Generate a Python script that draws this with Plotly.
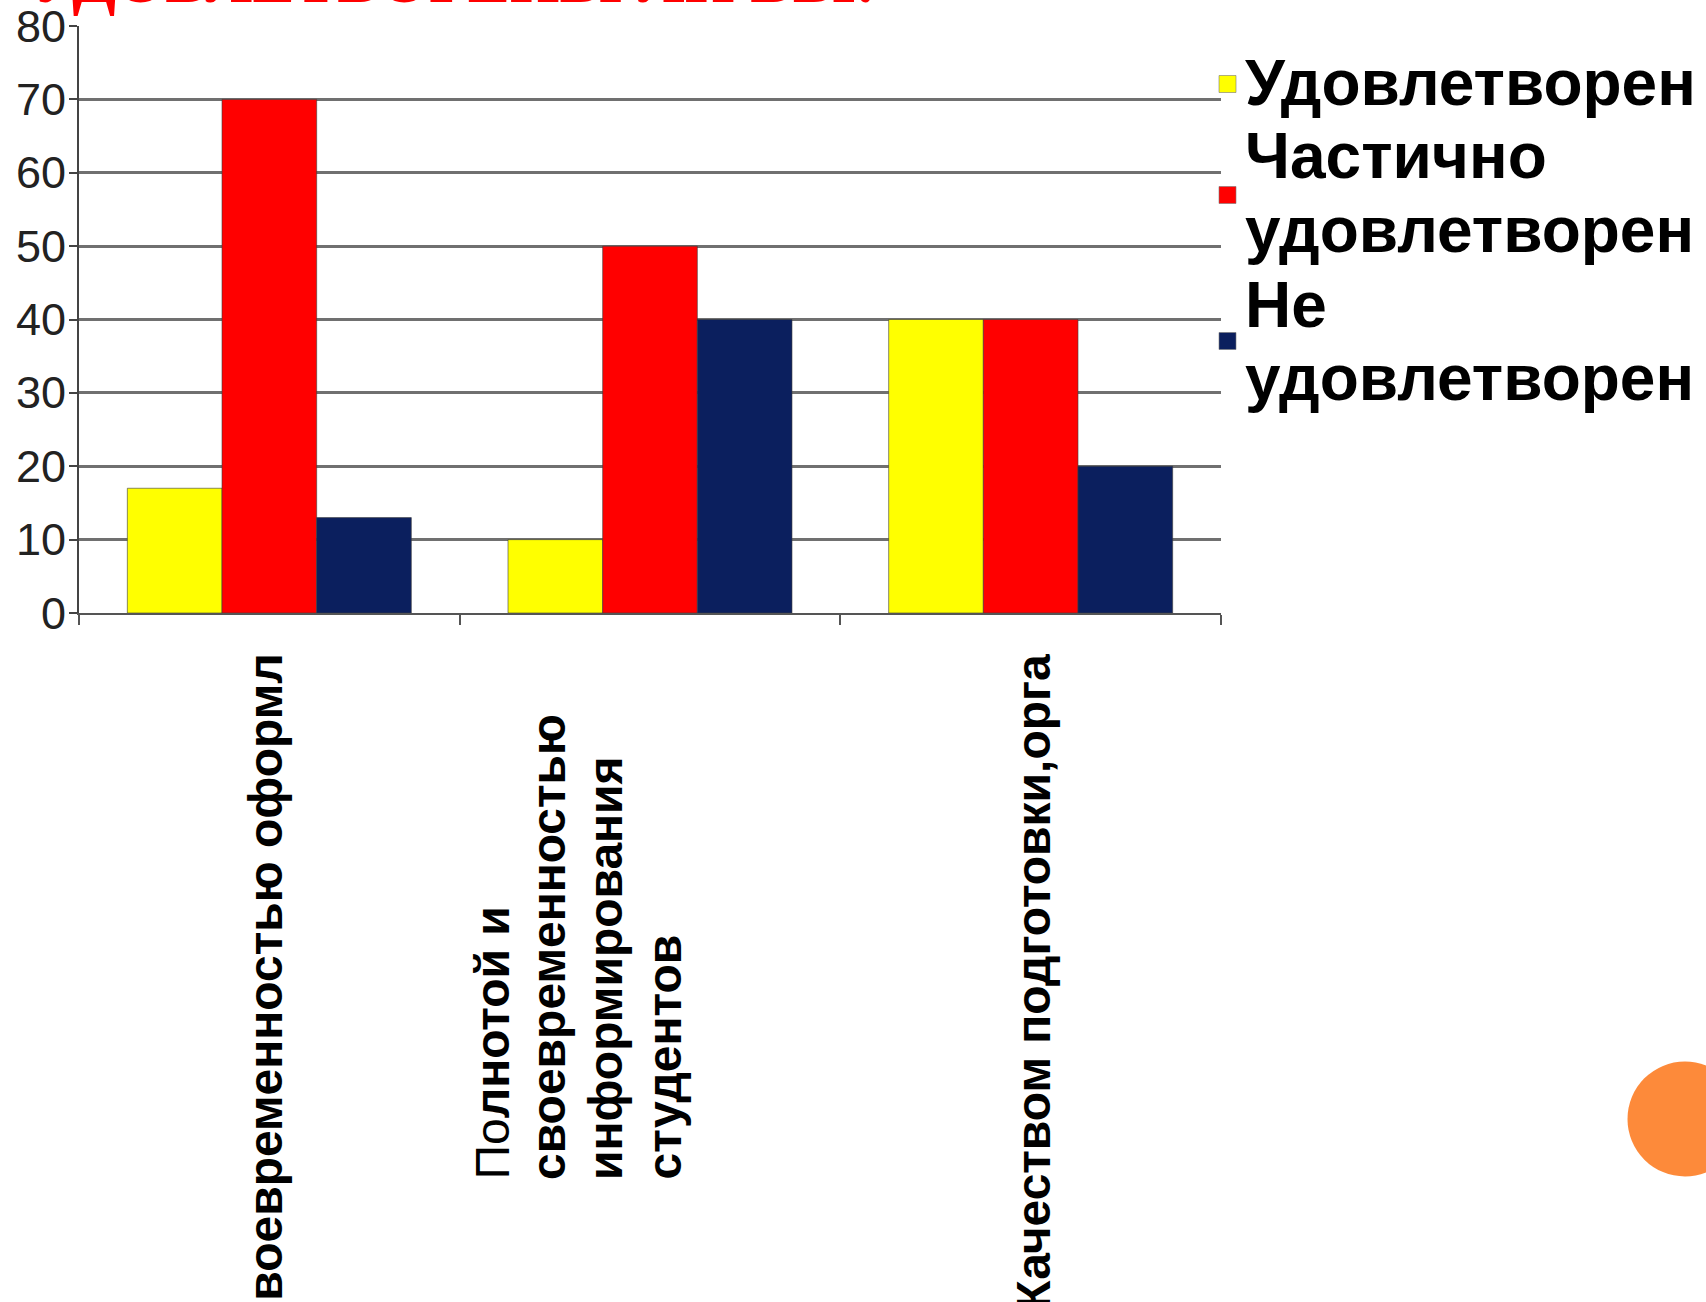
import plotly.graph_objects as go

# ---- data ----
categories = ["Своевременностью оформления", "Полнотой и своевременностью информирования студентов", "Качеством подготовки,организации"]
label_1 = "Своевременностью оформл"
label_2_lines = ["<span style='font-weight:normal'>По</span>лнотой и", "своевременностью", "информирования", "студентов"]
label_3 = "Качеством подготовки,орга"
series_names = ["Удовлетворен", "Частично удовлетворен", "Не удовлетворен"]
legend_lines = [["Удовлетворен"], ["Частично", "удовлетворен"], ["Не", "удовлетворен"]]
satisfied = [17, 10, 40]
partly = [70, 50, 40]
not_satisfied = [13, 40, 20]
y_ticks = [0, 10, 20, 30, 40, 50, 60, 70, 80]
title_text = "УДОВЛЕТВОРЕНЫ ЛИ ВЫ:"

colors = ["#FFFF00", "#FF0000", "#0B1F5E"]
values = [satisfied, partly, not_satisfied]

W, H = 1706, 1302
L, R, T, B = 79, 485, 26, 689
PW = W - L - R
PH = H - T - B


def px_x(px):
    return (px - L) / PW


def px_y(py):
    return (H - B - py) / PH


fig = go.Figure()
for name, vals, col in zip(series_names, values, colors):
    fig.add_trace(go.Bar(
        x=categories, y=vals, name=name,
        marker=dict(color=col, line=dict(color="rgba(60,60,60,0.6)", width=1)),
        showlegend=False,
    ))

fig.update_layout(
    width=W, height=H, autosize=False,
    margin=dict(l=L, r=R, t=T, b=B, pad=0, autoexpand=False),
    paper_bgcolor="white", plot_bgcolor="white",
    barmode="group", bargap=0.254, bargroupgap=0,
    font=dict(family="Liberation Sans, Arial, sans-serif", color="#000"),
    xaxis=dict(
        type="category", categoryorder="array", categoryarray=categories,
        range=[-0.5, 2.5], showticklabels=False, automargin=False,
        ticks="outside", tickson="boundaries", ticklen=10, tickwidth=2, tickcolor="#555",
        showline=True, linecolor="#555", linewidth=2, showgrid=False,
    ),
    yaxis=dict(
        range=[0, 80], tickvals=y_ticks, showticklabels=False, automargin=False,
        showgrid=True, gridcolor="#707070", gridwidth=2.5,
        showline=True, linecolor="#444", linewidth=2,
        ticks="outside", ticklen=8, tickwidth=2, tickcolor="#444",
        zeroline=False,
    ),
)

# y tick labels
for v in y_ticks:
    fig.add_annotation(x=px_x(68), xref="paper", y=v, yref="y", text=str(v),
                       showarrow=False, xanchor="right", yanchor="middle",
                       font=dict(size=45, color="#222"))

# category labels (rotated)
fig.add_annotation(x=categories[0], xref="x", y=px_y(651), yref="paper",
                   text=label_1, textangle=-90, showarrow=False,
                   xanchor="center", yanchor="top", xshift=-4,
                   font=dict(size=48, weight="bold", color="#000"))
for j, (ln, dx) in enumerate(zip(label_2_lines, [-158, -102, -45, 14])):
    fig.add_annotation(x=categories[1], xref="x", y=px_y(1182), yref="paper",
                       text=ln, textangle=-90, showarrow=False,
                       xanchor="center", yanchor="bottom", xshift=dx,
                       font=dict(size=48, weight="bold", color="#000"))
fig.add_annotation(x=categories[2], xref="x", y=px_y(652), yref="paper",
                   text=label_3, textangle=-90, showarrow=False,
                   xanchor="center", yanchor="top", xshift=2,
                   font=dict(size=48, weight="bold", color="#000"))

# custom legend
line_mid_y = [83, 156, 230, 305, 378]
marker_y = [84, 195, 341]
k = 0
for i, lines in enumerate(legend_lines):
    for ln in lines:
        fig.add_annotation(x=px_x(1243), xref="paper", y=px_y(line_mid_y[k]), yref="paper",
                           text=ln, showarrow=False, xanchor="left", yanchor="middle",
                           font=dict(size=64, weight="bold", color="#000"))
        k += 1
    my = marker_y[i]
    fig.add_shape(type="rect", xref="paper", yref="paper",
                  x0=px_x(1219), x1=px_x(1236), y0=px_y(my - 8.5), y1=px_y(my + 8.5),
                  fillcolor=colors[i], line=dict(color="rgba(120,120,120,0.6)", width=1))

# cut-off title at the top
fig.add_annotation(x=px_x(30), xref="paper", y=px_y(17.5), yref="paper",
                   text=title_text, showarrow=False, xanchor="left", yanchor="bottom",
                   font=dict(family="Liberation Serif, Times New Roman, serif", size=63.5,
                             weight="bold", color="#FF0000"))

# orange decorative circle
fig.add_shape(type="circle", xref="paper", yref="paper",
              x0=px_x(1627.5), x1=px_x(1742.5), y0=px_y(1176.5), y1=px_y(1061.5),
              fillcolor="#FD8A3A", line=dict(width=0))

fig.write_html("out.html", config={"displayModeBar": False},
               post_script="document.body.style.margin='0';document.body.style.overflow='hidden';")
